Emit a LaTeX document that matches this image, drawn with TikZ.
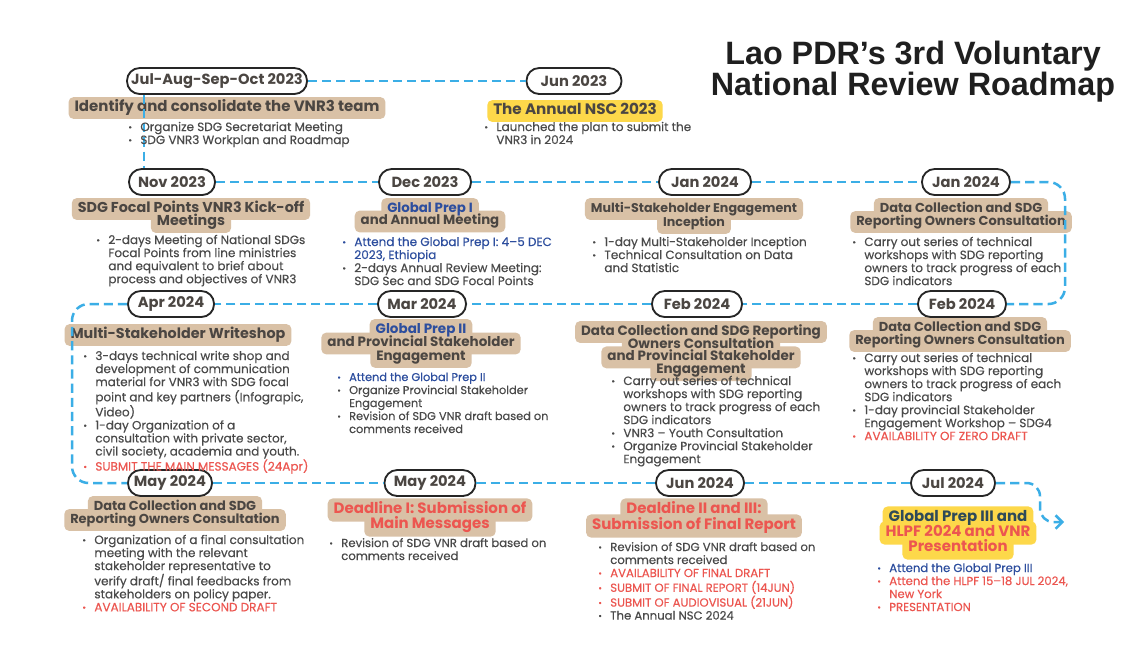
\documentclass[tikz,border=0pt]{standalone}
\usepackage{fontspec}
\setmainfont{Poppins}
\newfontfamily\popbody[FakeBold=0.35]{Poppins}
\newfontfamily\titlefont{Liberation Sans}
\usetikzlibrary{shapes.misc,arrows.meta}
\definecolor{tan}{HTML}{D9C1A6}
\definecolor{ylw}{HTML}{FDD84A}
\definecolor{dblue}{HTML}{3BAEE6}
\definecolor{hgray}{HTML}{4B4642}
\definecolor{bgray}{HTML}{4A4A4A}
\definecolor{pblue}{HTML}{2D4E9E}
\definecolor{cred}{HTML}{EC5650}
\definecolor{slate}{HTML}{2F4A58}
\newcommand{\bdot}{\raisebox{0.1ex}{\scalebox{0.75}{\textbullet}}}
\newcommand{\itm}[1]{\bdot&#1\\}
\newcommand{\cnt}[1]{&#1\\}
\newcommand{\itmR}[1]{\textcolor{cred}{\bdot}&\textcolor{cred}{#1}\\}
\newcommand{\cntR}[1]{&\textcolor{cred}{#1}\\}
\newcommand{\itmB}[1]{\textcolor{pblue}{\bdot}&\textcolor{pblue}{#1}\\}
\newcommand{\cntB}[1]{&\textcolor{pblue}{#1}\\}
\newcommand{\blst}[1]{\begin{tabular}[t]{@{}l@{\hspace{5pt}}l@{}}#1\end{tabular}}
% heading: name, style, x, y, line step, lines
\newcommand{\hdg}[6]{%
  \foreach \t [count=\i] in {#6} {\node[hbase,#2,text opacity=0] (#1-b\i) at (#3,{#4+(\i-1)*#5}) {\t};}
  \foreach \t [count=\i] in {#6} {\node[hbase,#2,fill=none] (#1-\i) at (#3,{#4+(\i-1)*#5}) {\t};}
}
\tikzset{
  pill/.style={rectangle, rounded corners=7.6pt, draw=black!85, line width=1.1pt, fill=white,
    minimum height=15.6pt, minimum width=#1*0.6pt, inner xsep=2pt, inner ysep=0pt,
    font=\fontsize{8.8}{9}\selectfont\bfseries, text=hgray},
  hbase/.style={rounded corners=3pt, inner xsep=3.6pt, inner ysep=2.6pt, text=hgray,
    font=\fontsize{7.8}{8.5}\selectfont\bfseries, text height=6pt, text depth=1.9pt},
  hsz/.style={font=\fontsize{#1}{10}\selectfont\bfseries},
  hbig/.style={font=\fontsize{9}{10}\selectfont\bfseries, text height=6.6pt, text depth=2.1pt, text=cred},
  blist/.style={anchor=base west, inner sep=0pt, text=bgray, align=left,
    font=\popbody\fontsize{7.2}{7.8}\selectfont},
  bsz/.style={font=\popbody\fontsize{#1}{7.8}\selectfont},
  dl/.style={draw=dblue, line width=1.5pt, dash pattern=on 5.5pt off 3pt},
}
\begin{document}
\begin{tikzpicture}[x=0.6pt,y=-0.6pt]
\useasboundingbox (0,0) rectangle (1134,655);
\fill[white] (0,0) rectangle (1134,655);

% title
\node[font=\titlefont\fontsize{19.4}{18.6}\selectfont\bfseries, align=center, text=black!88] (title) at (913,72) {Lao PDR’s 3rd Voluntary\\National Review Roadmap};

% headings
\hdg{hjul}{fill=tan,hsz=9}{227}{108}{13}{{Identify and consolidate the VNR3 team}}
\hdg{hjun}{fill=ylw,hsz=9.1}{575}{111}{13}{{The Annual NSC 2023}}
\hdg{hnov}{fill=tan,hsz=8.6}{191}{209}{13}{{SDG Focal Points VNR3 Kick-off},{Meetings}}
\hdg{hdec}{fill=tan,hsz=8}{430}{209}{12.5}{{\textcolor{pblue}{Global Prep I}},{and Annual Meeting}}
\hdg{hjan}{fill=tan,hsz=7.6}{694}{209}{14}{{Multi-Stakeholder Engagement},{Inception}}
\hdg{hjan2}{fill=tan}{961}{209}{13}{{Data Collection and SDG},{Reporting Owners Consultation}}
\hdg{hapr}{fill=tan,hsz=8.6}{178}{335}{13}{{Multi-Stakeholder Writeshop}}
\hdg{hmar}{fill=tan,hsz=8.1}{421}{330}{13.5}{{\textcolor{pblue}{Global Prep II}},{and Provincial Stakeholder},{Engagement}}
\hdg{hfeb}{fill=tan,hsz=8.1}{701}{332}{12.7}{{Data Collection and SDG Reporting},{Owners Consultation},{and Provincial Stakeholder},{Engagement}}
\hdg{hfeb2}{fill=tan}{960}{328}{13}{{Data Collection and SDG},{Reporting Owners Consultation}}
\hdg{hmay}{fill=tan}{175}{507}{13}{{Data Collection and SDG},{Reporting Owners Consultation}}
\hdg{hmay2}{fill=tan,hbig}{430}{510}{15}{{Deadline I: Submission of},{Main Messages}}
\hdg{hjun24}{fill=tan,hbig}{694}{510}{16}{{Dealdine II and III:},{Submission of Final Report}}
\hdg{hjul24}{fill=ylw,hbig}{958}{518}{15}{{\textcolor{slate}{Global Prep III and}},{HLPF 2024 and VNR},{Presentation}}

% pills
\node[pill=180] (jul) at (217,81)  {Jul-Aug-Sep-Oct 2023};
\node[pill=95] (jun)   at (574,81)  {Jun 2023};
\node[pill=86] (nov)   at (172,182) {Nov 2023};
\node[pill=92] (dec)   at (425,182) {Dec 2023};
\node[pill=92] (jan)   at (705,182) {Jan 2024};
\node[pill=88] (jan2)  at (966,182) {Jan 2024};
\node[pill=86] (apr)   at (171,304) {Apr 2024};
\node[pill=88] (mar)   at (422,304) {Mar 2024};
\node[pill=90] (feb)   at (697,304) {Feb 2024};
\node[pill=88] (feb2)  at (962,304) {Feb 2024};
\node[pill=84] (may)   at (170,483) {May 2024};
\node[pill=91] (may2)  at (430,483) {May 2024};
\node[pill=88] (jun24) at (700,483) {Jun 2024};
\node[pill=84] (jul24) at (953,483) {Jul 2024};

% connectors
\coordinate (rt) at (1065,0);
\coordinate (lf) at (72,0);
\coordinate (rt2) at (1040,0);
\coordinate (tip) at (1064,522);
\draw[dl] (jul) -- (jun);
\draw[dl] ([xshift=-43.8pt]jul.south) -- ([xshift=-43.8pt]jul.south |- nov.north);
\draw[dl] (nov) -- (dec);
\draw[dl] (dec) -- (jan);
\draw[dl] (jan) -- (jan2);
\draw[dl, rounded corners=10pt] (jan2.east) -| (rt |- feb2.east) -- (feb2.east);
\draw[dl] (feb2) -- (feb);
\draw[dl] (feb) -- (mar);
\draw[dl] (mar) -- (apr);
\draw[dl, rounded corners=10pt] (apr.west) -| (lf |- may.west) -- (may.west);
\draw[dl] (may) -- (may2);
\draw[dl] (may2) -- (jun24);
\draw[dl] (jun24) -- (jul24);
\draw[dl, rounded corners=8pt, -{Straight Barb[length=4pt,width=8pt,line width=1.5pt]}] (jul24.east) -| (rt2 |- tip) -- (tip);

% bullet lists
\node[blist] (bjul) at (128,131) {\blst{\itm{Organize SDG Secretariat Meeting}\itm{SDG VNR3 Workplan and Roadmap}}};
\node[blist] (bjun) at (484,131) {\blst{\itm{Launched the plan to submit the}\cnt{VNR3 in 2024}}};
\node[blist] (bnov) at (96,244) {\blst{\itm{2-days Meeting of National SDGs}\cnt{Focal Points from line ministries}\cnt{and equivalent to brief about}\cnt{process and objectives of VNR3}}};
\node[blist] (bdec) at (342,246) {\blst{\itmB{Attend the Global Prep I: 4–5 DEC}\cntB{2023, Ethiopia}\itm{2-days Annual Review Meeting:}\cnt{SDG Sec and SDG Focal Points}}};
\node[blist] (bjan) at (592,246) {\blst{\itm{1-day Multi-Stakeholder Inception}\itm{Technical Consultation on Data}\cnt{and Statistic}}};
\node[blist] (bjan2) at (852,246) {\blst{\itm{Carry out series of technical}\cnt{workshops with SDG reporting}\cnt{owners to track progress of each}\cnt{SDG indicators}}};
\node[blist] (bapr) at (83,360) {\blst{\itm{3-days technical write shop and}\cnt{development of communication}\cnt{material for VNR3 with SDG focal}\cnt{point and key partners (Infograpic,}\cnt{Video)}\itm{1-day Organization of a}\cnt{consultation with private sector,}\cnt{civil society, academia and youth.}\itmR{SUBMIT THE MAIN MESSAGES (24Apr)}}};
\node[blist,bsz=6.8] (bmar) at (337,381) {\blst{\itmB{Attend the Global Prep II}\itm{Organize Provincial Stakeholder}\cnt{Engagement}\itm{Revision of SDG VNR draft based on}\cnt{comments received}}};
\node[blist] (bfeb) at (611,385) {\blst{\itm{Carry out series of technical}\cnt{workshops with SDG reporting}\cnt{owners to track progress of each}\cnt{SDG indicators}\itm{VNR3 – Youth Consultation}\itm{Organize Provincial Stakeholder}\cnt{Engagement}}};
\node[blist] (bfeb2) at (852,362) {\blst{\itm{Carry out series of technical}\cnt{workshops with SDG reporting}\cnt{owners to track progress of each}\cnt{SDG indicators}\itm{1-day provincial Stakeholder}\cnt{Engagement Workshop – SDG4}\itmR{AVAILABILITY OF ZERO DRAFT}}};
\node[blist] (bmay) at (82,544) {\blst{\itm{Organization of a final consultation}\cnt{meeting with the relevant}\cnt{stakeholder representative to}\cnt{verify draft/ final feedbacks from}\cnt{stakeholders on policy paper.}\itmR{AVAILABILITY OF SECOND DRAFT}}};
\node[blist,bsz=7] (bmay2) at (329,547) {\blst{\itm{Revision of SDG VNR draft based on}\cnt{comments received}}};
\node[blist,bsz=7] (bjun24) at (598,551) {\blst{\itm{Revision of SDG VNR draft based on}\cnt{comments received}\itmR{AVAILABILITY OF FINAL DRAFT}\itmR{SUBMIT OF FINAL REPORT (14JUN)}\itmR{SUBMIT OF AUDIOVISUAL (21JUN)}\itm{The Annual NSC 2024}}};
\node[blist,bsz=7] (bjul24) at (877,572) {\blst{\itmB{Attend the Global Prep III}\itmR{Attend the HLPF 15–18 JUL 2024,}\cntR{New York}\itmR{PRESENTATION}}};
\end{tikzpicture}
\end{document}
